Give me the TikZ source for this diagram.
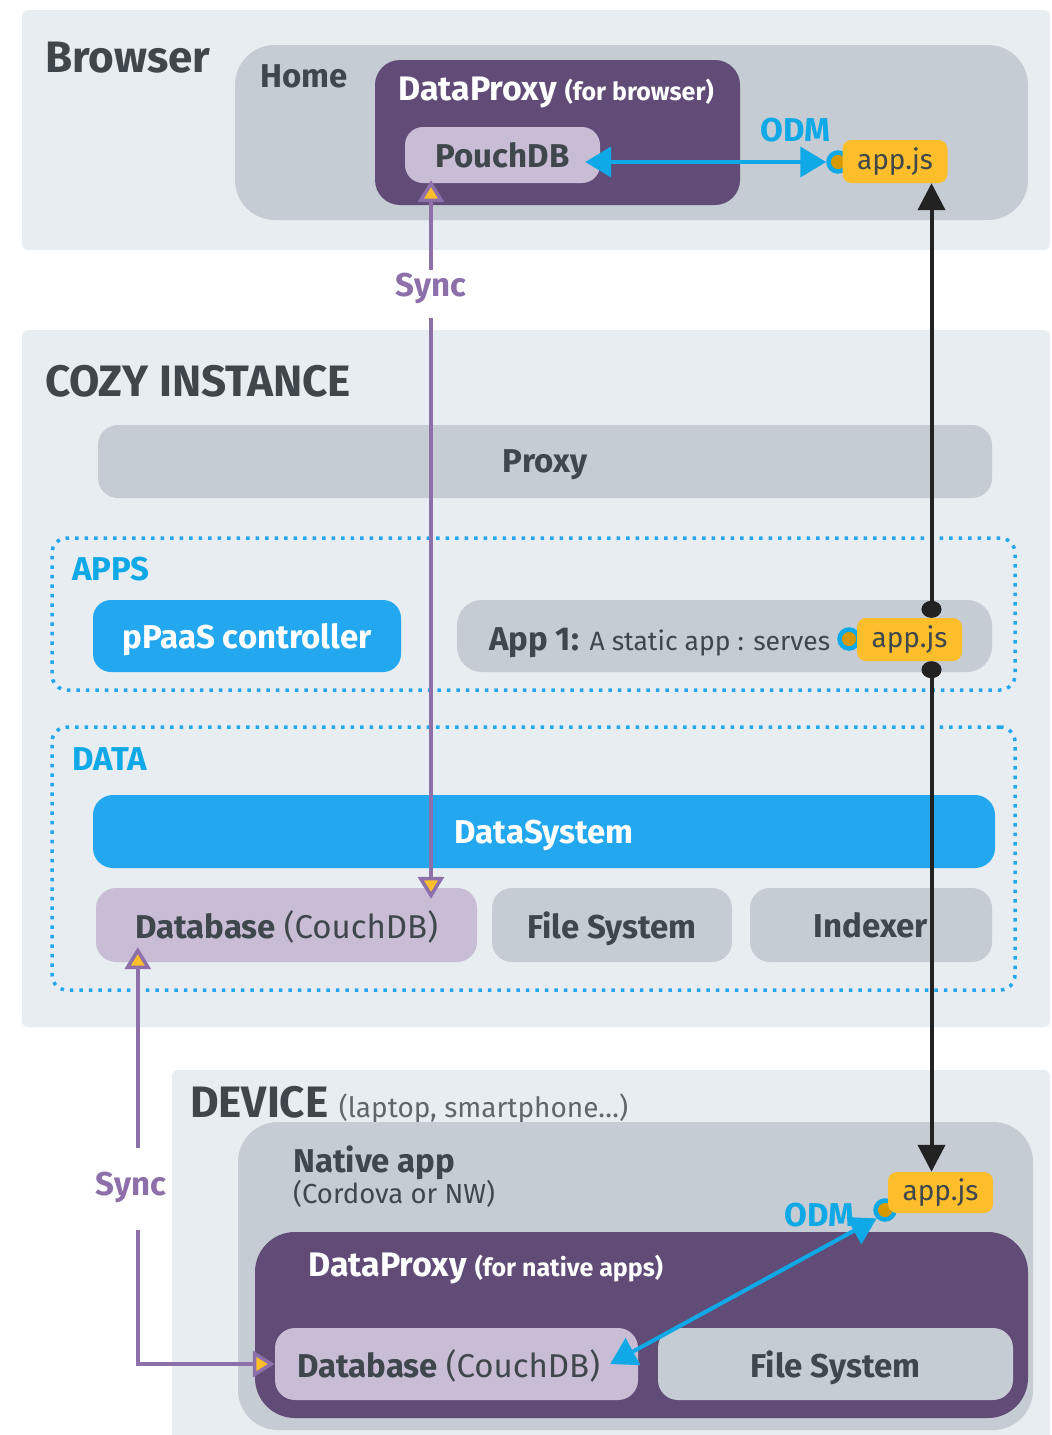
\documentclass[tikz,border=0pt]{standalone}
\usepackage{fontspec}
\setmainfont{Fira Sans}
\usepackage{xcolor}
\usetikzlibrary{arrows.meta, positioning}
\definecolor{panelbg}{RGB}{232,237,241}
\definecolor{boxgray}{RGB}{197,204,211}
\definecolor{proxypurple}{RGB}{97,75,119}
\definecolor{dblilac}{RGB}{201,189,214}
\definecolor{odmblue}{RGB}{14,169,230}
\definecolor{sysblue}{RGB}{35,168,240}
\definecolor{jsyellow}{RGB}{253,190,44}
\definecolor{plugorange}{RGB}{215,153,0}
\definecolor{textdark}{RGB}{63,71,77}
\definecolor{syncpurple}{RGB}{141,112,170}
\definecolor{subgray}{RGB}{95,102,108}
\definecolor{jsblack}{RGB}{34,34,34}

\begin{document}
\begin{tikzpicture}[x=1pt, y=-1pt,
    panel/.style={rectangle, fill=panelbg, rounded corners=6pt, inner sep=0pt},
    paneltitle/.style={anchor=base west, inner sep=0pt, text=textdark, font=\fontsize{44}{50}\selectfont\bfseries},
    block/.style={rectangle, rounded corners=#1, inner sep=0pt, text depth=0pt, text=textdark, font=\fontsize{33}{38}\selectfont\bfseries},
    block/.default=20pt,
    blocklabel/.style={anchor=base west, inner sep=0pt, text=textdark, font=\fontsize{33}{38}\selectfont\bfseries},
    group/.style={rectangle, draw=sysblue, line width=3.5pt, dash pattern=on 3.5pt off 6pt, rounded corners=15pt, inner sep=0pt},
    grouptitle/.style={anchor=base west, inner sep=0pt, text=odmblue, font=\fontsize{33}{38}\selectfont\bfseries},
    jsbox/.style={rectangle, fill=jsyellow, rounded corners=9pt, minimum width=105pt, minimum height=43pt, inner sep=0pt, text=textdark, font=\fontsize{28}{32}\selectfont},
    plug/.style={circle, draw=odmblue, line width=4.5pt, fill=plugorange, minimum size=19pt, inner sep=0pt},
    synclabel/.style={inner sep=0pt, text=syncpurple, font=\fontsize{33}{38}\selectfont\bfseries},
    odmarrow/.style={{Triangle[length=26pt,width=30pt]}-{Triangle[length=26pt,width=30pt]}, line width=4pt, draw=odmblue},
    syncarrow/.style={-{Triangle[length=22pt,width=26pt,fill=jsyellow]}, line width=3.5pt, draw=syncpurple},
    jsarrow/.style={{Circle[length=17pt,width=20pt]}-{Triangle[length=27pt,width=27pt]}, line width=4pt, draw=jsblack}
]
\useasboundingbox (0,0) rectangle (1052,1435);

\node[panel, minimum width=1028pt, minimum height=240pt] (browser) at (536,130) {};
\node[panel, minimum width=1028pt, minimum height=697pt] (cozy) at (536,678.5) {};
\node[panel, minimum width=878pt, minimum height=380pt] (device) at (611,1260) {};
\node[paneltitle] at (45,72) {Browser};
\node[paneltitle] at (45,396) {COZY INSTANCE};
\node[paneltitle] at (190,1117) {DEVICE {\fontsize{28}{32}\selectfont\mdseries\color{subgray}(laptop, smartphone…)}};

\node[block=40pt, fill=boxgray, minimum width=793pt, minimum height=175pt] (home) at (631.5,132.5) {};
\node[blocklabel] at (260,87) {Home};
\node[block=25pt, fill=proxypurple, minimum width=365pt, minimum height=145pt] (browserproxy) at (557.5,132.5) {};
\node[blocklabel, text=white, font=\fontsize{34}{38}\selectfont\bfseries] at (398,100) {DataProxy {\fontsize{25}{28}\selectfont(for browser)}};
\node[block=18pt, fill=dblilac, minimum width=195pt, minimum height=56pt] (pouchdb) at (502.5,155) {PouchDB};
\node[grouptitle] at (760,141) {ODM};
\node[plug] (browserplug) at (838,162) {};
\node[jsbox] (browserjs) at (895,161.5) {app.js};

\node[block=20pt, fill=boxgray, minimum width=894pt, minimum height=73pt] (proxy) at (545,461.5) {Proxy};
\node[group, minimum width=963pt, minimum height=152pt] (apps) at (533.5,614) {};
\node[grouptitle] at (72,580) {APPS};
\node[block=18pt, fill=sysblue, text=white, minimum width=308pt, minimum height=72pt] (ppaas) at (247,636) {pPaaS controller};
\node[block=25pt, fill=boxgray, minimum width=535pt, minimum height=72pt] (app1) at (724.5,636) {};
\node[blocklabel] at (489,650) {App 1: {\fontsize{26.5}{30}\selectfont\mdseries A static app : serves}};
\node[plug] (app1plug) at (849,639) {};
\node[jsbox] (app1js) at (909.5,639.5) {app.js};

\node[group, minimum width=963pt, minimum height=263pt] (data) at (533.5,858.5) {};
\node[grouptitle] at (72,770) {DATA};
\node[block=20pt, fill=sysblue, text=white, minimum width=902pt, minimum height=73pt] (datasystem) at (544,831.5) {DataSystem};
\node[block=20pt, fill=dblilac, minimum width=381pt, minimum height=74pt] (cozydb) at (286.5,925) {Database {\mdseries(CouchDB)}};
\node[block=20pt, fill=boxgray, minimum width=240pt, minimum height=74pt] (cozyfs) at (612,925) {File System};
\node[block=20pt, fill=boxgray, minimum width=242pt, minimum height=74pt] (indexer) at (871,925) {Indexer};

\node[block=40pt, fill=boxgray, minimum width=795pt, minimum height=308pt] (nativeapp) at (635.5,1276) {};
\node[blocklabel] at (293,1172) {Native app};
\node[blocklabel, font=\fontsize{27.5}{30}\selectfont] at (293,1203) {(Cordova or NW)};
\node[grouptitle] at (784,1226) {ODM};
\node[plug] (devplug) at (885,1210) {};
\node[jsbox, minimum height=41pt] (devjs) at (940.5,1192.5) {app.js};
\node[block=40pt, fill=proxypurple, minimum width=773pt, minimum height=186pt] (devproxy) at (641.5,1325) {};
\node[blocklabel, text=white, font=\fontsize{34}{38}\selectfont\bfseries] at (308,1276) {DataProxy {\fontsize{25}{28}\selectfont(for native apps)}};
\node[block=20pt, fill=dblilac, minimum width=363pt, minimum height=72pt] (devdb) at (456.5,1364) {Database {\mdseries(CouchDB)}\kern16pt};
\node[block=20pt, fill=boxgray, minimum width=355pt, minimum height=72pt] (devfs) at (835.5,1364) {File System};

\node[synclabel] (synctop) at (431,288) {Sync};
\node[synclabel] (syncbot) at (131,1187) {Sync};
\coordinate (syncup) at ([xshift=42pt,yshift=15pt]cozydb.south west);

\draw[odmarrow] ([xshift=-15pt]pouchdb.east |- browserplug.west) -- (browserplug.west);
\draw[odmarrow] ([xshift=-28pt]devdb.east) -- (devplug.south west);
\draw[syncarrow] ([yshift=18pt]synctop.center) -- ([yshift=3pt]synctop.center |- pouchdb.south);
\draw[syncarrow] ([yshift=-30pt]synctop.center) -- ([yshift=-11pt]synctop.center |- cozydb.north);
\draw[syncarrow] ([yshift=39pt]syncbot.center -| syncup) -- (syncup);
\draw[syncarrow] ([yshift=-43pt]syncbot.center -| syncup) |- (devdb.west);
\draw[jsarrow] ([xshift=22pt]app1js.north) -- ([xshift=22pt]app1js.north |- browserjs.south);
\draw[jsarrow] ([xshift=22pt]app1js.south) -- ([xshift=22pt]app1js.south |- devjs.north);
\end{tikzpicture}
\end{document}
